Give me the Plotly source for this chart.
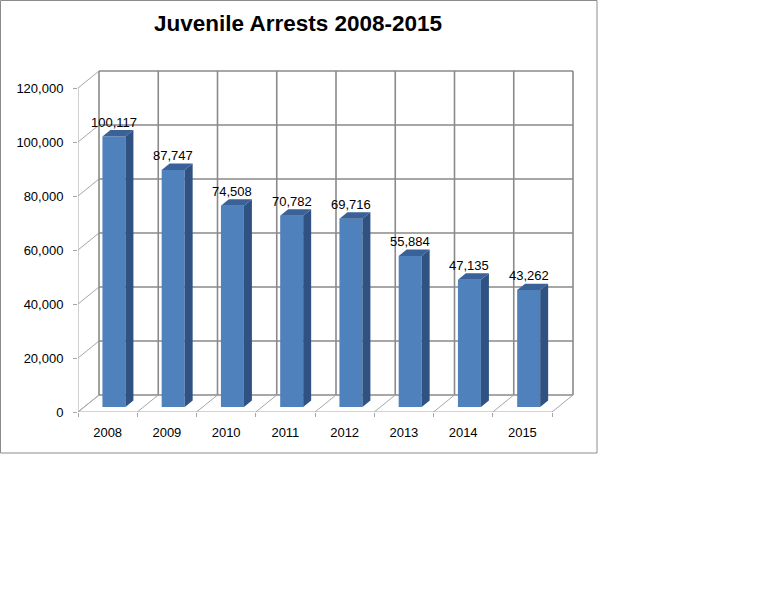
import plotly.graph_objects as go

# ---- data ----
years = ["2008", "2009", "2010", "2011", "2012", "2013", "2014", "2015"]
arrests = [100117, 87747, 74508, 70782, 69716, 55884, 47135, 43262]
y_ticks = [0, 20000, 40000, 60000, 80000, 100000, 120000]

# ---- geometry (pixels -> data units) ----
PX_PER_CAT = 59.25          # width of one category in px
PX_PER_UNIT = 2.7 / 1000    # px per arrest
PLOT_W, PLOT_H = 497, 342
DX = 21 / PX_PER_CAT        # depth offset in x (category units)
DY = 17 / PX_PER_UNIT       # depth offset in y (value units)
F1, F2 = 0.30, 0.68         # bar front / back depth fractions
BW = 23 / PX_PER_CAT        # bar width
n = len(years)
pos = list(range(n))
ymax = max(y_ticks)


def P(xc, v, f):
    return xc + f * DX, v + f * DY


shapes = []
GRID = dict(color="#8a8a8a", width=1.6)
THIN = dict(color="#a6a6a6", width=1)


def seg(a, b, line):
    shapes.append(dict(type="line", xref="x", yref="y", x0=a[0], y0=a[1],
                       x1=b[0], y1=b[1], line=line, layer="below"))


left, right = -0.5, n - 0.5
# back wall horizontal gridlines + left wall diagonals
for v in y_ticks:
    seg(P(left, v, 1), P(right, v, 1), GRID)
    seg(P(left, v, 0), P(left, v, 1), THIN)
# back wall verticals
for k in range(n + 1):
    seg(P(left + k, 0, 1), P(left + k, ymax, 1), GRID)
    # floor diagonals
    seg(P(left + k, 0, 0), P(left + k, 0, 1), THIN)
# front floor edge and front vertical axis
seg(P(left, 0, 0), P(right, 0, 0), THIN)
seg(P(left, 0, 0), P(left, ymax, 0), THIN)

# chart frame border (paper coords)
shapes.append(dict(type="rect", xref="paper", yref="paper",
                   x0=(0.5 - 78) / PLOT_W, x1=(597 - 78) / PLOT_W,
                   y0=(412 - 453) / PLOT_H, y1=(412 - 0.5) / PLOT_H,
                   line=dict(color="#8c8c8c", width=1), layer="below"))

fig = go.Figure()

# side faces and top faces
sx, sy, tx, ty = [], [], [], []
for i, v in zip(pos, arrests):
    xl = i - BW / 2 + F1 * DX
    xr = i + BW / 2 + F1 * DX
    ddx = (F2 - F1) * DX
    b1, b2 = F1 * DY, F2 * DY
    sx += [xr, xr + ddx, xr + ddx, xr, xr, None]
    sy += [b1, b2, v + b2, v + b1, b1, None]
    tx += [xl, xr, xr + ddx, xl + ddx, xl, None]
    ty += [v + b1, v + b1, v + b2, v + b2, v + b1, None]

fig.add_trace(go.Bar(x=[i + F1 * DX for i in pos], y=arrests,
                     base=[F1 * DY] * n, width=BW,
                     marker=dict(color="#4F81BD", line=dict(width=0)),
                     hoverinfo="skip"))
fig.add_trace(go.Scatter(x=sx, y=sy, mode="lines", fill="toself",
                         fillcolor="#2F5282", line=dict(width=0, color="#2F5282"),
                         hoverinfo="skip"))
fig.add_trace(go.Scatter(x=tx, y=ty, mode="lines", fill="toself",
                         fillcolor="#3A6198", line=dict(width=0, color="#3A6198"),
                         hoverinfo="skip"))

annotations = []
for i, v in zip(pos, arrests):
    x, y = P(i, v, F1)
    annotations.append(dict(x=x, y=y, xref="x", yref="y", text=f"{v:,}",
                            showarrow=False, yanchor="bottom", yshift=5,
                            font=dict(family="Liberation Sans", size=13, color="black")))

fig.update_layout(
    width=768, height=589,
    margin=dict(l=78, r=768 - 78 - PLOT_W, t=412 - PLOT_H, b=589 - 412),
    paper_bgcolor="white", plot_bgcolor="rgba(0,0,0,0)",
    showlegend=False, shapes=shapes, annotations=annotations,
    title=dict(text="Juvenile Arrests 2008-2015", x=298 / 768, xanchor="center",
               y=1 - 23 / 589, yanchor="middle", yref="container",
               font=dict(family="Liberation Sans", size=22.5, color="black", weight="bold")),
    xaxis=dict(range=[left, left + PLOT_W / PX_PER_CAT], tickvals=pos, ticktext=years,
               showgrid=False, zeroline=False, showline=False, ticks="",
               ticklabelstandoff=11,
               tickfont=dict(family="Liberation Sans", size=13, color="black"),
               minor=dict(tickvals=[left + k for k in range(n + 1)], ticks="outside",
                          ticklen=4, tickcolor="#a6a6a6", showgrid=False),
               fixedrange=True),
    yaxis=dict(range=[0, PLOT_H / PX_PER_UNIT], tickvals=y_ticks, tickformat=",",
               showgrid=False, zeroline=False, showline=False, ticks="outside",
               ticklen=4, tickcolor="#a6a6a6", ticklabelstandoff=7,
               tickfont=dict(family="Liberation Sans", size=13, color="black"),
               fixedrange=True),
)

fig.write_html("out.html")
